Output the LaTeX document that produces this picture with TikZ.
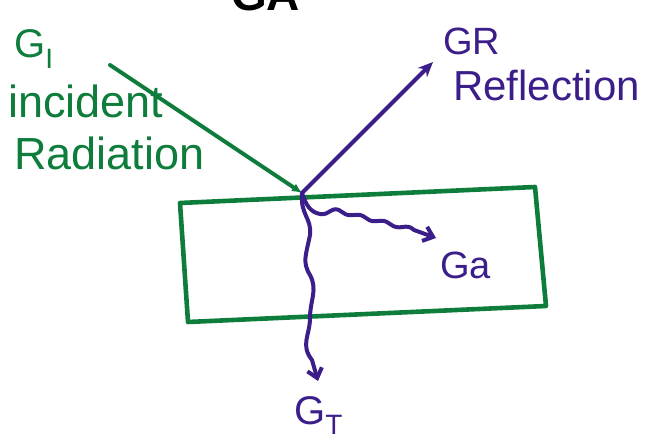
\documentclass[tikz,border=0pt]{standalone}
\usepackage{fontspec}
\setmainfont{Liberation Sans}
\usetikzlibrary{arrows.meta,decorations.pathmorphing}
\definecolor{inkgreen}{RGB}{14,124,58}
\definecolor{inkpurple}{RGB}{60,30,138}
\tikzset{
  hand/.style={inner sep=0pt, anchor=base west},
  big/.style={font=\fontsize{45}{50}\selectfont},
  mid/.style={font=\fontsize{40}{46}\selectfont},
  ray/.style={line width=4pt, line cap=round, line join=round},
  slab/.style={line width=4.6pt, inkgreen, line join=round}
}
\begin{document}
\begin{tikzpicture}[x=1pt,y=-1pt]
  \useasboundingbox (0,0) rectangle (648,441);
  \clip (0,0) rectangle (648,441);

  % heading, cut by the top edge
  \node[hand, font=\bfseries\fontsize{46}{50}\selectfont] (title) at (231,11) {GA};

  % slab
  \coordinate (tl) at (180,203);
  \coordinate (tr) at (535,187);
  \coordinate (br) at (546,306);
  \coordinate (bl) at (188,322);
  \draw[slab] (tl) -- (tr) -- (br) -- (bl) -- cycle;

  % point of incidence and ray ends
  \coordinate (P) at (302,193);
  \coordinate (src) at (110,65);
  \coordinate (refl) at (433,62);
  \coordinate (abs) at (436,238);
  \coordinate (trans) at (318,381);

  % incident radiation
  \draw[ray, inkgreen, -{Latex[length=10pt,width=9pt]}] (src) -- (P);
  % reflected radiation
  \draw[ray, inkpurple, -{Stealth[length=15pt,width=13pt]}] (P) -- (refl);
  % absorbed part
  \draw[ray, inkpurple, -{Straight Barb[length=9pt,width=15pt]}]
    (P) .. controls (306,205) and (310,212) .. (320,214)
    .. controls (330,216) and (332,204) .. (342,212)
    .. controls (352,220) and (356,210) .. (366,218)
    .. controls (376,226) and (380,216) .. (390,224)
    .. controls (400,232) and (406,222) .. (414,230)
    -- (abs);
  % transmitted part
  \draw[ray, inkpurple, -{Straight Barb[length=9pt,width=15pt]}]
    (P) .. controls (300,215) and (312,218) .. (310,235)
    .. controls (306,255) and (302,262) .. (310,275)
    .. controls (318,290) and (310,300) .. (310,318)
    .. controls (310,335) and (300,345) .. (312,360)
    -- (trans);

  % labels
  \node[hand, mid, inkgreen] (gi) at (14,58) {G\textsubscript{I}};
  \node[hand, big, inkgreen] (inc) at (8,118) {incident};
  \node[hand, big, inkgreen] (rad) at (14,170) {Radiation};
  \node[hand, font=\fontsize{38}{42}\selectfont, inkpurple] (gr) at (443,55) {GR};
  \node[hand, font=\fontsize{42}{46}\selectfont, inkpurple] (rf) at (453,101) {Reflection};
  \node[hand, font=\fontsize{38}{42}\selectfont, inkpurple] (ga) at (440,278) {Ga};
  \node[hand, mid, inkpurple] (gt) at (294,424) {G\textsubscript{T}};
\end{tikzpicture}
\end{document}
